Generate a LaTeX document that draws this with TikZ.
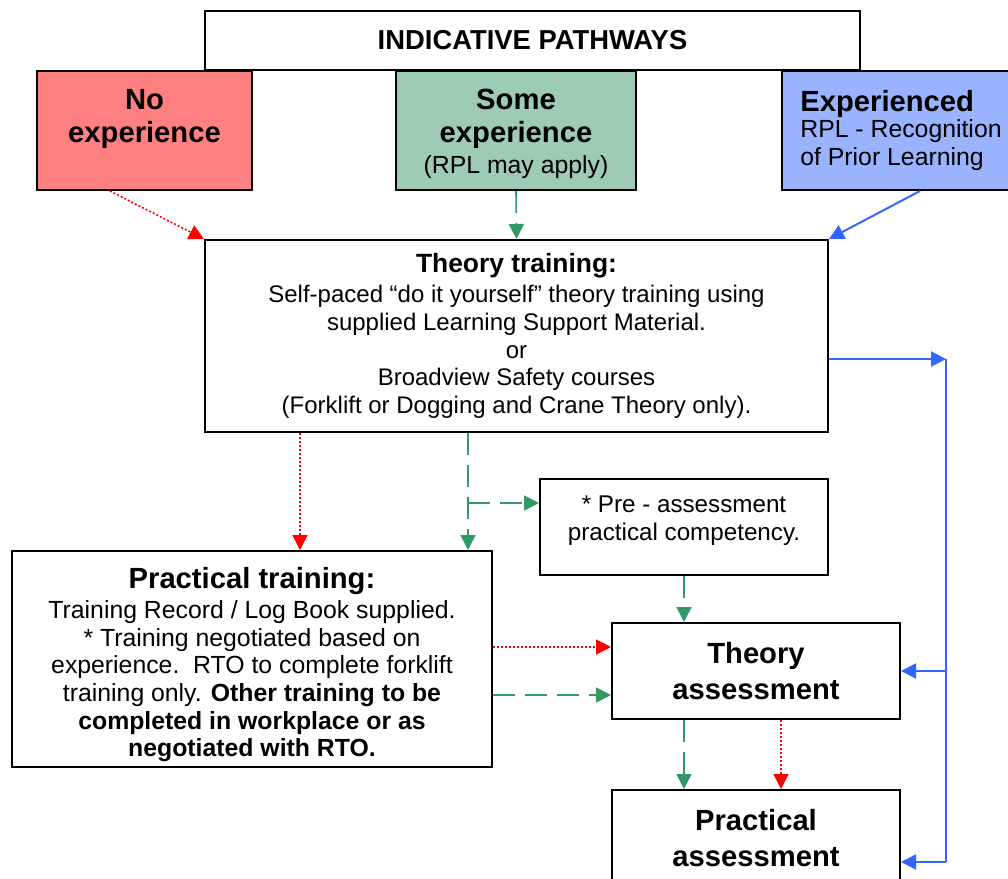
\documentclass[tikz,border=0pt]{standalone}
\usepackage{fontspec}
\setmainfont{Liberation Sans}
\usetikzlibrary{arrows.meta,positioning}

\definecolor{noexpred}{HTML}{FF8080}
\definecolor{someexpgreen}{HTML}{9ECBB4}
\definecolor{expblue}{HTML}{99B3FF}
\definecolor{pathred}{HTML}{FF0000}
\definecolor{pathgreen}{HTML}{339966}
\definecolor{pathblue}{HTML}{3366FF}

\newcommand{\bodysize}{\mdseries\fontsize{12.4}{13.8}\selectfont}
\newcommand{\headsize}{\bfseries\fontsize{14.6}{16.5}\selectfont}
\newcommand{\toptext}[4]{\parbox[c][#1][t]{#2}{\centering\vspace*{#3}#4}}

\tikzset{
  box/.style={draw, line width=1pt, rectangle, inner sep=0pt, align=center, font=\bodysize},
  tip/.style={-{Triangle[length=7.5pt,width=7.5pt]}},
  redpath/.style={pathred, line width=0.8pt, dash pattern=on 1pt off 1pt, tip},
  greenpath/.style={pathgreen, line width=0.8pt, dash pattern=on 11pt off 5pt, tip},
  bluepath/.style={pathblue, line width=1pt, tip},
}

\begin{document}
\begin{tikzpicture}[x=0.5pt, y=-0.5pt]
    \useasboundingbox (0,0) rectangle (1008,879);
    \clip (0,0) rectangle (1008,879);

    % pathway boxes
    \node[box, minimum width=327.5pt, minimum height=29.5pt, font=\bfseries\fontsize{13.7}{15}\selectfont] (title) at (532.5,40.5) {INDICATIVE PATHWAYS};
    \node[box, fill=noexpred, minimum width=107.5pt, minimum height=59.5pt] (noexp) at (144.5,130.5)
        {\toptext{59.5pt}{107.5pt}{9.25pt}{\headsize No\\experience}};
    \node[box, fill=someexpgreen, minimum width=120pt, minimum height=59.5pt] (someexp) at (516,130.5)
        {\toptext{59.5pt}{120pt}{9.25pt}{\headsize Some\\experience\par\vspace{1.5pt}\bodysize (RPL may apply)}};
    \node[box, fill=expblue, align=left, minimum width=119pt, minimum height=59.5pt] (exp) at (901,130.5)
        {\headsize Experienced\\[-1pt]\bodysize RPL - Recognition\\of Prior Learning};

    % training
    \node[box, minimum width=311.5pt, minimum height=96pt, font=\mdseries\fontsize{12}{13.8}\selectfont] (theory) at (516.5,336)
        {\bfseries\fontsize{13.2}{15}\selectfont Theory training:\\[1.2pt]Self-paced “do it yourself” theory training using\\supplied Learning Support Material.\\or\\Broadview Safety courses\\(Forklift or Dogging and Crane Theory only).};
    \node[box, minimum width=144pt, minimum height=48pt] (pre) at (684,527)
        {\toptext{48pt}{144pt}{8.5pt}{\mdseries\fontsize{12.1}{13.8}\selectfont * Pre - assessment\\practical competency.}};
    \node[box, minimum width=240pt, minimum height=108pt] (prac) at (252,659)
        {\toptext{108pt}{240pt}{8.25pt}{\headsize Practical training:\par\vspace{1.2pt}\bodysize Training Record / Log Book supplied.\\{*} Training negotiated based on\\experience.\ \ RTO to complete forklift\\training only. \textbf{Other training to be}\\\textbf{completed in workplace or as}\\\textbf{negotiated with RTO.}}};

    % assessment
    \node[box, minimum width=144pt, minimum height=48pt, font=\bfseries\fontsize{14.6}{18}\selectfont] (ta) at (756,671) {Theory\\assessment};
    \node[box, minimum width=144pt, minimum height=48pt, font=\bfseries\fontsize{14.6}{18}\selectfont] (pa) at (756,838) {Practical\\assessment};

    \coordinate (redlane) at (300,0);
    \coordinate (redlane2) at (781,0);
    \coordinate (redrow) at (0,647);
    \coordinate (greenrow) at (0,695);
    \coordinate (greenfork) at (468,503);
    \coordinate (bustop) at (946,359);
    \coordinate (busbottom) at (946,862);

    % into theory training
    \draw[redpath] ([xshift=-17.25pt]noexp.south) -- (theory.north west);
    \draw[greenpath] (someexp.south) -- (theory.north);
    \draw[bluepath] ([xshift=9.5pt]exp.south) -- (theory.north east);

    % red pathway
    \draw[redpath] (theory.south -| redlane) -- (prac.north -| redlane);
    \draw[redpath] (prac.east |- redrow) -- (ta.west |- redrow);
    \draw[redpath] (ta.south -| redlane2) -- (pa.north -| redlane2);

    % green pathway
    \draw[greenpath] (theory.south -| greenfork) -- (prac.north -| greenfork);
    \draw[greenpath] (greenfork) -- (greenfork -| pre.west);
    \draw[greenpath] (pre.south) -- (pre.south |- ta.north);
    \draw[greenpath] (prac.east |- greenrow) -- (ta.west |- greenrow);
    \draw[greenpath] (ta.south -| pre.south) -- (pa.north -| pre.south);

    % blue pathway
    \draw[bluepath] (theory.east |- bustop) -- (bustop);
    \draw[pathblue, line width=0.6pt] (bustop) -- (busbottom);
    \draw[bluepath] (bustop |- ta.east) -- (ta.east);
    \draw[bluepath] (busbottom) -- (busbottom -| pa.east);
\end{tikzpicture}
\end{document}
